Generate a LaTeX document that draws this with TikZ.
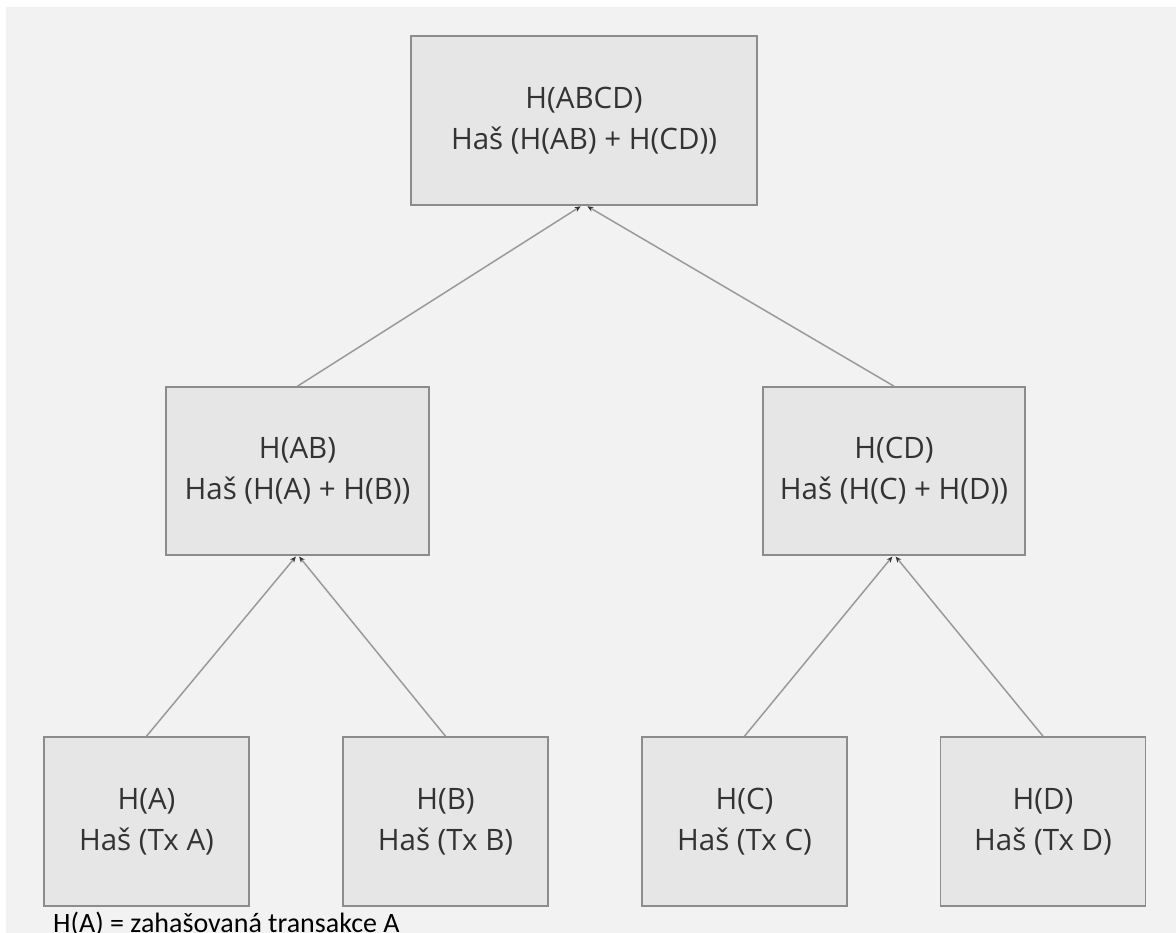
\documentclass[tikz,border=0pt]{standalone}
\usepackage{fontspec}
\setmainfont{Open Sans}
\newfontfamily\notefont{Carlito}
\usetikzlibrary{arrows.meta}
\definecolor{bg}{HTML}{F2F2F2}
\definecolor{boxfill}{HTML}{E6E6E6}
\definecolor{boxline}{HTML}{8C8C8C}
\definecolor{edgecol}{HTML}{9A9A9A}
\definecolor{txt}{HTML}{333333}
\begin{document}
\begin{tikzpicture}[x=1pt,y=-1pt,
  hbox/.style={draw=boxline, line width=1.6pt, fill=boxfill, text=txt, align=center,
    inner sep=0pt, font=\fontsize{29.5}{41}\selectfont, minimum height=169pt},
  conn/.style={draw=edgecol, line width=1.5pt, shorten >=1pt,
    -{Stealth[length=6pt,width=5pt,color=txt]}}]
\useasboundingbox (0,0) rectangle (1176,933);
\clip (0,0) rectangle (1176,933);
\fill[white] (0,0) rectangle (1176,933);
\fill[bg] (6,7) rectangle (1176,933);

\node[hbox, minimum width=346pt] (root) at (584,120.5) {H(ABCD)\\Haš (H(AB) + H(CD))};
\node[hbox, minimum width=263pt, minimum height=168pt] (ab) at (297.5,471) {H(AB)\\Haš (H(A) + H(B))};
\node[hbox, minimum width=262pt, minimum height=168pt] (cd) at (894,471) {H(CD)\\Haš (H(C) + H(D))};
\node[hbox, minimum width=205pt] (a) at (146.5,821.5) {H(A)\\Haš (Tx A)};
\node[hbox, minimum width=205pt] (b) at (445.5,821.5) {H(B)\\Haš (Tx B)};
\node[hbox, minimum width=205pt] (c) at (744.5,821.5) {H(C)\\Haš (Tx C)};
\node[hbox, minimum width=205pt] (d) at (1043,821.5) {H(D)\\Haš (Tx D)};

\draw[conn] (ab.north) -- ([xshift=-2.5pt]root.south);
\draw[conn] (cd.north) -- ([xshift=2.5pt]root.south);
\draw[conn] (a.north) -- ([xshift=-1pt]ab.south);
\draw[conn] (b.north) -- ([xshift=1pt]ab.south);
\draw[conn] (c.north) -- ([xshift=-1pt]cd.south);
\draw[conn] (d.north) -- ([xshift=1pt]cd.south);

\node[anchor=base west, inner sep=0pt, text=black, font=\notefont\fontsize{28}{32}\selectfont] (note) at (53,932.5) {H(A) = zahašovaná transakce A};
\end{tikzpicture}
\end{document}
